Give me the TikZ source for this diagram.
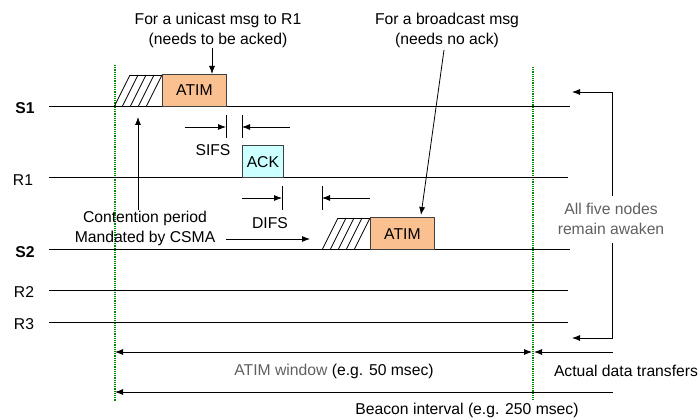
\documentclass[tikz,border=0pt]{standalone}
\usepackage{fontspec}
\setmainfont{Liberation Sans}
\usetikzlibrary{arrows.meta}
\definecolor{atimorange}{HTML}{FAC090}
\definecolor{ackcyan}{HTML}{CCFFFF}
\definecolor{dotgreen}{HTML}{008A00}
\definecolor{notegray}{HTML}{606060}
\begin{document}
\begin{tikzpicture}[
            x = 1pt, y = -1pt,
            every node/.style = {font = \fontsize{15.7}{20}\selectfont},
            lbl/.style = {inner sep = 0pt},
            blbl/.style = {inner sep = 0pt, font = \fontsize{15.7}{20}\selectfont\bfseries},
            lane/.style = {draw, line width = 1pt},
            msg/.style = {draw = black!75, line width = 0.8pt, minimum height = 32pt, inner sep = 0pt, anchor = south west},
            hatch/.style = {draw, line width = 0.7pt},
            tick/.style = {draw, line width = 0.8pt},
            bound/.style = {draw = dotgreen, line width = 1.2pt, dash pattern = on 1.2pt off 1pt},
            arr/.style = {draw, line width = 0.8pt, -{Latex[length = 8pt, width = 6pt]}},
            darr/.style = {draw, line width = 0.8pt, {Latex[length = 8pt, width = 6pt]}-{Latex[length = 8pt, width = 6pt]}},
            note/.style = {align = center, inner sep = 0pt},
        ]
        \useasboundingbox (0,0) rectangle (700,419);

        \draw[bound] (115,65) -- (115,401);
        \draw[bound] (533,67) -- (533,401);

        \node (s1) [blbl] at (25,108) {S1};
        \node (r1) [lbl] at (23,180) {R1};
        \node (s2) [blbl] at (25,252) {S2};
        \node (r2) [lbl] at (24,292) {R2};
        \node (r3) [lbl] at (24,324) {R3};

        \foreach \y/\e in {107/570, 178/568, 250/570, 290/568, 322/568}
            \draw[lane] (49,\y) -- (\e,\y);

        \foreach \i in {0,...,4}
            \draw[hatch] (114+8*\i,107) -- (130+8*\i,75);
        \draw[hatch] (130,75) -- (162,75);
        \node (atim1) [msg, fill = atimorange, minimum width = 64pt] at (162,107) {ATIM};

        \node (ack) [msg, fill = ackcyan, minimum width = 41pt] at (242,178) {ACK};

        \foreach \i in {0,...,4}
            \draw[hatch] (322+8*\i,250) -- (338+8*\i,218);
        \draw[hatch] (338,218) -- (370,218);
        \node (atim2) [msg, fill = atimorange, minimum width = 64pt] at (370,250) {ATIM};

        \node (uc) [note] at (218,30) {For a unicast msg to R1\\(needs to be acked)};
        \node (bc) [note] at (447,30) {For a broadcast msg\\(needs no ack)};
        \coordinate (ucTip) at (212,74);
        \coordinate (bcTip) at (421,215);
        \path[arr] (uc.south -| ucTip) -- (ucTip);
        \path[arr] (444,50) -- (bcTip);

        \draw[tick] (226,115) -- (226,138);
        \draw[tick] (242,115) -- (242,138);
        \coordinate (sifsA) at (185,127);
        \coordinate (sifsB) at (290,127);
        \path[arr] (sifsA) -- (226,127);
        \path[arr] (sifsB) -- (242,127);
        \node (sifs) [lbl] at (213,150) {SIFS};

        \draw[tick] (282,186) -- (282,210);
        \draw[tick] (322,186) -- (322,210);
        \coordinate (difsA) at (242,198);
        \coordinate (difsB) at (370,198);
        \path[arr] (difsA) -- (282,198);
        \path[arr] (difsB) -- (322,198);
        \node (difs) [lbl] at (270,223) {DIFS};

        \node (cont) [note] at (145,228) {Contention period\\Mandated by CSMA};
        \coordinate (contTip) at (138,117);
        \coordinate (csmaA) at (226,239);
        \coordinate (csmaB) at (310,239);
        \path[arr] (cont.north -| contTip) -- (contTip);
        \path[arr] (csmaA) -- (csmaB);

        \node (awake) [note, text = notegray] at (611,219) {All five nodes\\remain awaken};
        \coordinate (awTop) at (572,92);
        \coordinate (awBot) at (572,338);
        \path[arr] (612,196) |- (awTop);
        \path[arr] (612,243) |- (awBot);

        \coordinate (winL) at (115,352);
        \coordinate (winR) at (532,352);
        \coordinate (dataR) at (613,352);
        \coordinate (dataL) at (534,352);
        \path[darr] (winL) -- (winR);
        \path[arr] (dataR) -- (dataL);
        \node (win) [lbl] at (334,371) {\textcolor{notegray}{ATIM window} (e.g. 50 msec)};
        \node (data) [lbl] at (626,371) {Actual data transfers};

        \coordinate (bcnL) at (115,392);
        \coordinate (bcnR) at (613,392);
        \path[arr] (bcnR) -- (bcnL);
        \node (bcn) [lbl] at (467,410) {Beacon interval (e.g. 250 msec)};
    \end{tikzpicture}
\end{document}
